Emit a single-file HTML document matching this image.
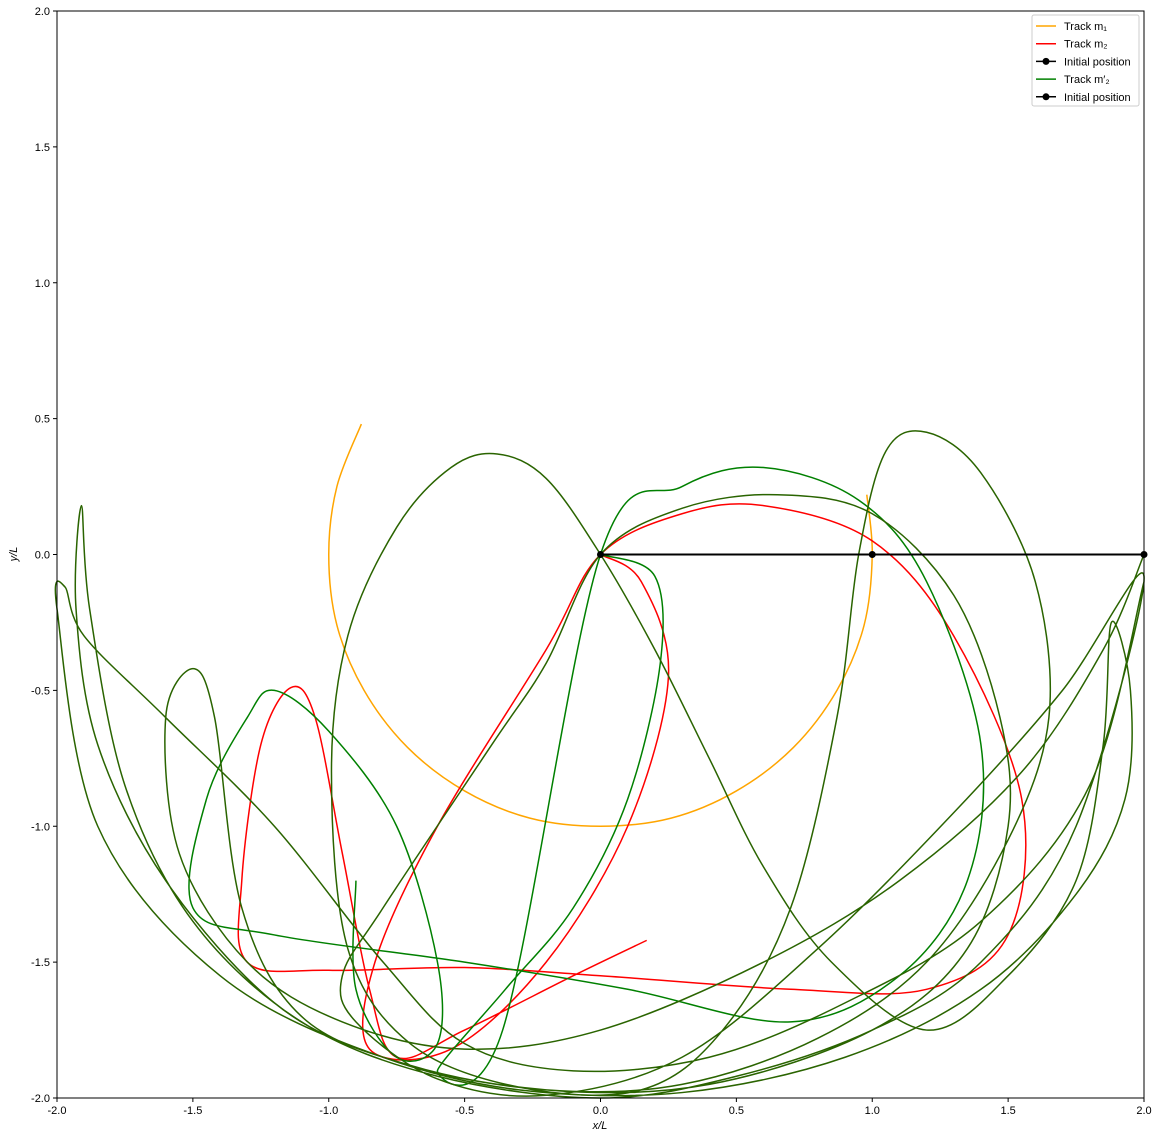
<!DOCTYPE html>
<html><head><meta charset="utf-8">
<style>
body{margin:0;background:#fff;font-family:"Liberation Sans","DejaVu Sans",sans-serif;}
svg text{font-family:"Liberation Sans","DejaVu Sans",sans-serif;font-size:11px;fill:#000}
</style></head>
<body>
<svg id="chart" width="1158" height="1139" xmlns="http://www.w3.org/2000/svg">
<g id="plot"></g>
</svg>
<script>
// data (x/L, y/L)
const xTicks=[-2.0,-1.5,-1.0,-0.5,0.0,0.5,1.0,1.5,2.0];
const yTicks=[-2.0,-1.5,-1.0,-0.5,0.0,0.5,1.0,1.5,2.0];
const trackM1=[[-0.88,0.48],[-0.97,0.25],[-1.0,0],[-0.97,-0.26],[-0.87,-0.5],[-0.71,-0.71],[-0.5,-0.87],[-0.26,-0.97],[0,-1.0],[0.26,-0.97],[0.5,-0.87],[0.71,-0.71],[0.87,-0.5],[0.97,-0.26],[1.0,0],[0.98,0.22]];
const sharedTrack=[[2,0],[1.85,-0.35],[1.55,-0.8],[1.1,-1.2],[0.6,-1.5],[0.0,-1.75],[-0.5,-1.82],[-0.95,-1.72],[-1.3,-1.5],[-1.55,-1.1],[-1.6,-0.6],[-1.5,-0.42],[-1.42,-0.6],[-1.32,-1.3],[-1.1,-1.7],[-0.7,-1.88],[-0.2,-1.97],[0.3,-1.95],[0.8,-1.78],[1.2,-1.5],[1.5,-1.05],[1.65,-0.6],[1.6,-0.1],[1.4,0.3],[1.2,0.45],[1.05,0.38],[0.95,0],[0.87,-0.6],[0.7,-1.3],[0.45,-1.75],[0.15,-1.97],[-0.3,-1.96],[-0.7,-1.8],[-0.93,-1.45],[-0.99,-0.8],[-0.93,-0.3],[-0.75,0.1],[-0.55,0.32],[-0.38,0.37],[-0.2,0.28],[0,0],[0.2,-0.35],[0.4,-0.75],[0.6,-1.15],[0.85,-1.5],[1.2,-1.75],[1.5,-1.55],[1.75,-1.2],[1.85,-0.7],[1.88,-0.25],[1.95,-0.5],[1.93,-0.9],[1.75,-1.25],[1.4,-1.6],[0.9,-1.85],[0.3,-1.98],[-0.3,-1.97],[-0.8,-1.85],[-1.2,-1.65],[-1.6,-1.2],[-1.85,-0.7],[-1.93,-0.2],[-1.91,0.18],[-1.88,-0.2],[-1.75,-0.85],[-1.5,-1.35],[-1.1,-1.72],[-0.6,-1.92],[0,-2.0],[0.5,-1.92],[1.0,-1.75],[1.4,-1.5],[1.75,-1.0],[2.0,-0.08],[1.7,-0.5],[1.3,-0.95],[0.8,-1.45],[0.3,-1.85],[-0.2,-1.99],[-0.6,-1.93],[-0.9,-1.72],[-0.95,-1.55],[-0.8,-1.3],[-0.4,-0.7],[-0.2,-0.4],[0,0],[0.3,0.17],[0.65,0.22],[1.0,0.15],[1.3,-0.15],[1.47,-0.6],[1.5,-1.0],[1.35,-1.45],[1.0,-1.75],[0.4,-1.95],[-0.2,-1.97],[-0.8,-1.85],[-1.4,-1.55],[-1.85,-1.0],[-2.0,-0.2],[-1.97,-0.12],[-1.9,-0.3],[-1.6,-0.6],[-1.2,-1.0],[-0.8,-1.5],[-0.5,-1.8],[-0.1,-1.9],[0.4,-1.85],[0.9,-1.65],[1.4,-1.35],[1.8,-0.85],[2.0,-0.1]];
const greenTrack=[[0,0],[0.2,-0.08],[0.22,-0.4],[0.1,-0.9],[-0.1,-1.3],[-0.35,-1.6],[-0.6,-1.9],[-0.36,-1.75],[0,0],[0.3,0.25],[0.6,0.32],[0.95,0.2],[1.2,-0.1],[1.4,-0.7],[1.35,-1.2],[1.1,-1.55],[0.7,-1.72],[0.1,-1.6],[-0.5,-1.5],[-1.2,-1.4],[-1.5,-1.3],[-1.45,-0.9],[-1.3,-0.6],[-1.2,-0.5],[-1.0,-0.65],[-0.75,-1.0],[-0.6,-1.5],[-0.6,-1.8],[-0.75,-1.85],[-0.9,-1.6],[-0.9,-1.2]];
const redTrack=[[0,0],[0.15,-0.1],[0.25,-0.45],[0.1,-1.0],[-0.2,-1.5],[-0.55,-1.82],[-0.85,-1.82],[-0.83,-1.5],[-0.6,-1.0],[-0.2,-0.35],[0,0],[0.3,0.15],[0.6,0.18],[1.0,0.05],[1.3,-0.3],[1.55,-0.9],[1.5,-1.4],[1.2,-1.6],[0.7,-1.6],[0,-1.55],[-0.5,-1.52],[-1.0,-1.53],[-1.3,-1.5],[-1.32,-1.2],[-1.25,-0.7],[-1.14,-0.49],[-1.05,-0.6],[-0.95,-1.1],[-0.85,-1.6],[-0.75,-1.85],[-0.5,-1.75],[-0.1,-1.55],[0.17,-1.42]];
const initPts=[[0,0],[1,0],[2,0]];

const X0=57,X1=1144,Y0=11,Y1=1098;
const sx=v=>X0+(v+2)/4*(X1-X0);
const sy=v=>Y1-(v+2)/4*(Y1-Y0);
const NS="http://www.w3.org/2000/svg";
const svg=document.getElementById('chart');
function mk(t,a){const e=document.createElementNS(NS,t);for(const k in a)e.setAttribute(k,a[k]);svg.appendChild(e);return e;}
function smooth(pts){
  const p=pts.map(q=>[sx(q[0]),sy(q[1])]);
  let d=`M${p[0][0]},${p[0][1]}`;
  for(let i=0;i<p.length-1;i++){
    const a=p[Math.max(i-1,0)],b=p[i],c=p[i+1],e=p[Math.min(i+2,p.length-1)];
    d+=` C${b[0]+(c[0]-a[0])/6},${b[1]+(c[1]-a[1])/6} ${c[0]-(e[0]-b[0])/6},${c[1]-(e[1]-b[1])/6} ${c[0]},${c[1]}`;
  }
  return d;
}
let e;
e=mk('path',{d:smooth(trackM1),fill:'none',stroke:'#ffa500','stroke-width':1.5});


e=mk('path',{d:smooth(redTrack),fill:'none',stroke:'#ff0000','stroke-width':1.5});


e=mk('path',{d:smooth(greenTrack),fill:'none',stroke:'#008000','stroke-width':1.5});


e=mk('path',{d:smooth(sharedTrack),fill:'none',stroke:'#2a6400','stroke-width':1.5});


e=mk('polyline',{points:initPts.map(q=>sx(q[0])+','+sy(q[1])).join(' '),fill:'none',stroke:'#000','stroke-width':2});


initPts.forEach(q=>{const c=mk('circle',{cx:sx(q[0]),cy:sy(q[1]),r:3.5,fill:'#000'});

});
e=mk('rect',{x:X0,y:Y0,width:X1-X0,height:Y1-Y0,fill:'none',stroke:'#000','stroke-width':1});


xTicks.forEach(v=>{mk('line',{x1:sx(v),x2:sx(v),y1:Y1,y2:Y1+4,stroke:'#000'});
const t=mk('text',{x:sx(v),y:Y1+16,'text-anchor':'middle'});t.textContent=v.toFixed(1);

});
yTicks.forEach(v=>{mk('line',{x1:X0-4,x2:X0,y1:sy(v),y2:sy(v),stroke:'#000'});
const t=mk('text',{x:X0-7,y:sy(v)+4,'text-anchor':'end'});t.textContent=v.toFixed(1);

});
e=mk('text',{x:600,y:1129,'text-anchor':'middle','font-style':'italic'});e.textContent='x/L';


e=mk('text',{x:17,y:554,'text-anchor':'middle','font-style':'italic',transform:'rotate(-90 17 554)'});e.textContent='y/L';


// legend
e=mk('rect',{x:1032,y:15,width:107,height:91,rx:2,fill:'#fff',stroke:'#ccc'});


const leg=[['#ffa500','Track m₁',false],['#ff0000','Track m₂',false],['#000','Initial position',true],['#008000','Track m′₂',false],['#000','Initial position',true]];
leg.forEach((l,i)=>{const y=26+i*17.7;
mk('line',{x1:1036,x2:1056,y1:y,y2:y,stroke:l[0],'stroke-width':1.5});
if(l[2])mk('circle',{cx:1046,cy:y,r:3.5,fill:'#000'});
const t=mk('text',{x:1064,y:y+4,'font-size':'10.5px'});t.textContent=l[1];

});
</script>
</body></html>
